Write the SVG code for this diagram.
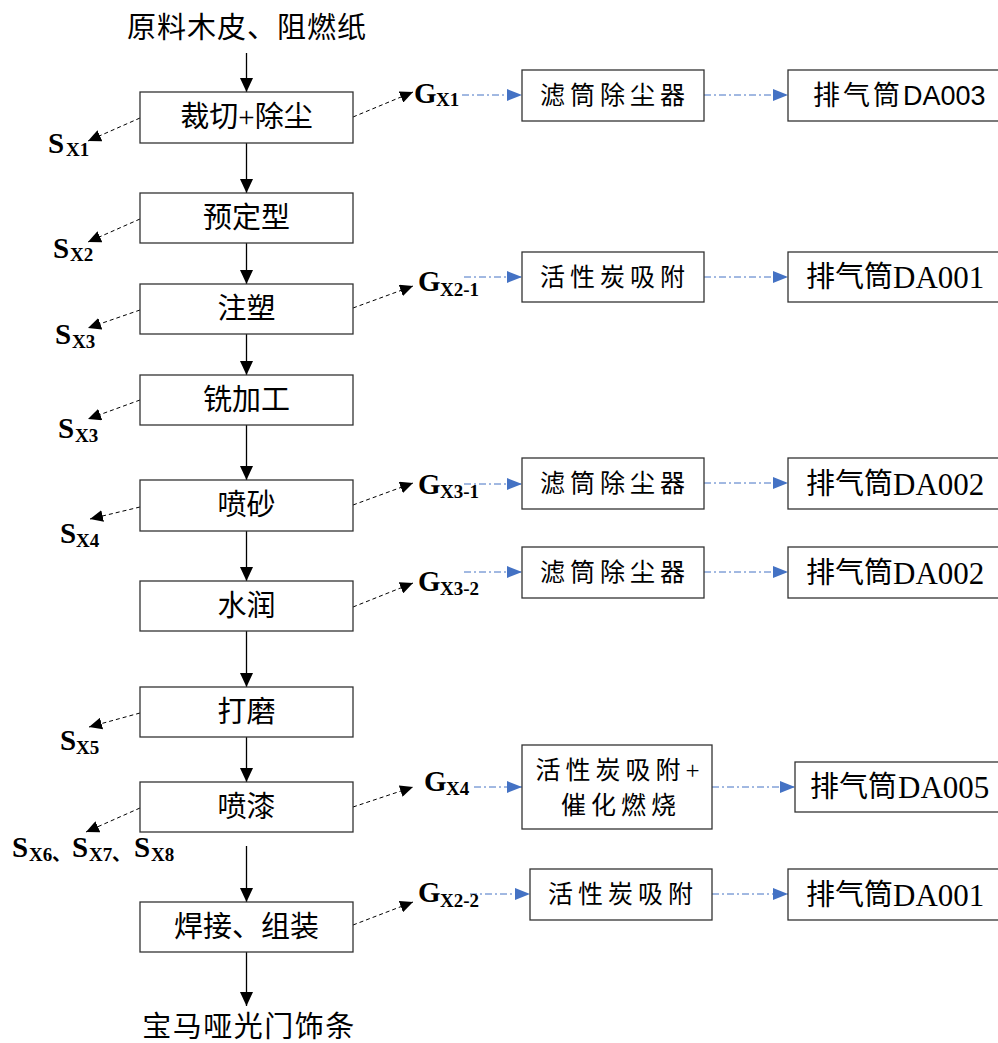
<svg xmlns="http://www.w3.org/2000/svg" width="998" height="1043" viewBox="0 0 998 1043">
<style>
.box{fill:#fff;stroke:#333;stroke-width:1.3}
.t{font-family:"Liberation Serif","Noto Sans CJK SC",serif;font-size:29px;text-anchor:middle;fill:#000}
.r{font-family:"Liberation Serif","Noto Sans CJK SC",serif;font-size:25px;letter-spacing:5px;text-anchor:middle;fill:#000}
.cj{font-family:"Noto Sans CJK SC",sans-serif;font-size:29px;fill:#000}
.lat{font-family:"Liberation Serif",serif;font-size:31px;fill:#000}
.sans{font-family:"Liberation Sans",sans-serif;font-size:27px;fill:#000}
.flow{fill:none;stroke:#000;stroke-width:1.3;marker-end:url(#ah)}
.dash{fill:none;stroke:#000;stroke-width:1;stroke-dasharray:4 3;marker-end:url(#dh)}
.blue{fill:none;stroke:#4472C4;stroke-width:1;stroke-dasharray:7 3 2 3;marker-end:url(#bh)}
.lbl{font-family:"Liberation Serif","Noto Sans CJK SC",serif;font-weight:bold;font-size:29px;fill:#000}
.sub{font-size:19px}
</style>
<defs>
<marker id="ah" markerUnits="userSpaceOnUse" markerWidth="14" markerHeight="13" refX="14" refY="6.5" orient="auto"><path d="M0,0 L14,6.5 L0,13 z" fill="#000"/></marker>
<marker id="dh" markerUnits="userSpaceOnUse" markerWidth="13" markerHeight="12" refX="13" refY="6" orient="auto"><path d="M0,0 L13,6 L0,12 z" fill="#000"/></marker>
<marker id="bh" markerUnits="userSpaceOnUse" markerWidth="15" markerHeight="12" refX="15" refY="6" orient="auto"><path d="M0,0 L15,6 L0,12 z" fill="#4472C4"/></marker>
</defs>

<g id="connectors">
<path class="flow" d="M246.5,53 V92"/>
<path class="flow" d="M246.5,143 V193"/>
<path class="flow" d="M246.5,243 V284"/>
<path class="flow" d="M246.5,334 V375"/>
<path class="flow" d="M246.5,425 V480"/>
<path class="flow" d="M246.5,531 V581"/>
<path class="flow" d="M246.5,631 V687"/>
<path class="flow" d="M246.5,737 V782"/>
<path class="flow" d="M246.5,846 V902"/>
<path class="flow" d="M246.5,952 V1006"/>

<path class="dash" d="M140,118 L88,141"/>
<path class="dash" d="M140,219 L88,242"/>
<path class="dash" d="M140,310 L88,328"/>
<path class="dash" d="M140,400 L88,419"/>
<path class="dash" d="M140,507 L90,519"/>
<path class="dash" d="M140,713 L89,727"/>
<path class="dash" d="M140,808 L86,832"/>

<path class="dash" d="M353,117 L413,92"/>
<path class="dash" d="M353,308 L413,286"/>
<path class="dash" d="M353,505 L413,483"/>
<path class="dash" d="M353,607 L413,583"/>
<path class="dash" d="M353,807 L413,787"/>
<path class="dash" d="M353,925 L413,902"/>

<path class="blue" d="M462,95 H522"/>
<path class="blue" d="M704,95 H788"/>
<path class="blue" d="M464,277 H522"/>
<path class="blue" d="M704,277 H788"/>
<path class="blue" d="M464,484 H522"/>
<path class="blue" d="M704,483 H788"/>
<path class="blue" d="M464,572 H522"/>
<path class="blue" d="M704,572 H788"/>
<path class="blue" d="M474,787 H522"/>
<path class="blue" d="M712,787 H795"/>
<path class="blue" d="M470,894 H530"/>
<path class="blue" d="M712,894 H788"/>
</g>

<g id="labels">
<text id="in" class="t" x="247" y="38" style="letter-spacing:1px">原料木皮、阻燃纸</text>
<text id="out" class="t" x="249" y="1037" style="letter-spacing:1.5px">宝马哑光门饰条</text>
<text class="lbl" x="48" y="153">S<tspan class="sub" x="66" y="156">X1</tspan></text>
<text class="lbl" x="53" y="258">S<tspan class="sub" x="70" y="261">X2</tspan></text>
<text class="lbl" x="55" y="344">S<tspan class="sub" x="72" y="348">X3</tspan></text>
<text class="lbl" x="58" y="438">S<tspan class="sub" x="75" y="442">X3</tspan></text>
<text class="lbl" x="60" y="543">S<tspan class="sub" x="76" y="547">X4</tspan></text>
<text class="lbl" x="60" y="750">S<tspan class="sub" x="76" y="754">X5</tspan></text>
<text class="lbl" x="12" y="857">S<tspan class="sub" x="29" y="861">X6</tspan><tspan class="sub" x="52" y="861">、</tspan><tspan x="72" y="857">S</tspan><tspan class="sub" x="89" y="861">X7</tspan><tspan class="sub" x="112" y="861">、</tspan><tspan x="134" y="857">S</tspan><tspan class="sub" x="151" y="861">X8</tspan></text>
<text class="lbl" x="414" y="103">G<tspan class="sub" x="436" y="106">X1</tspan></text>
<text class="lbl" x="418" y="291">G<tspan class="sub" x="440" y="296">X2-1</tspan></text>
<text class="lbl" x="418" y="494">G<tspan class="sub" x="440" y="498">X3-1</tspan></text>
<text class="lbl" x="418" y="591">G<tspan class="sub" x="440" y="595">X3-2</tspan></text>
<text class="lbl" x="424" y="791">G<tspan class="sub" x="446" y="795">X4</tspan></text>
<text class="lbl" x="418" y="902">G<tspan class="sub" x="440" y="907">X2-2</tspan></text>
</g>

<g id="n1"><rect class="box" x="140" y="92" width="213" height="51"/><text class="t" x="246.5" y="127">裁切+除尘</text></g>
<g id="n2"><rect class="box" x="140" y="193" width="213" height="50"/><text class="t" x="246.5" y="228">预定型</text></g>
<g id="n3"><rect class="box" x="140" y="284" width="213" height="50"/><text class="t" x="246.5" y="319">注塑</text></g>
<g id="n4"><rect class="box" x="140" y="375" width="213" height="50"/><text class="t" x="246.5" y="410">铣加工</text></g>
<g id="n5"><rect class="box" x="140" y="480" width="213" height="51"/><text class="t" x="246.5" y="515">喷砂</text></g>
<g id="n6"><rect class="box" x="140" y="581" width="213" height="50"/><text class="t" x="246.5" y="616">水润</text></g>
<g id="n7"><rect class="box" x="140" y="687" width="213" height="50"/><text class="t" x="246.5" y="722">打磨</text></g>
<g id="n8"><rect class="box" x="140" y="782" width="213" height="50"/><text class="t" x="246.5" y="817">喷漆</text></g>
<g id="n9"><rect class="box" x="140" y="902" width="213" height="50"/><text class="t" x="246.5" y="937">焊接、组装</text></g>

<g id="a1"><rect class="box" x="522" y="70" width="182" height="51"/><text class="r" x="615" y="104">滤筒除尘器</text></g>
<g id="b1"><rect class="box" x="788" y="70" width="220" height="51"/><text class="cj" x="813" y="105" style="font-size:27px;letter-spacing:3px">排气筒</text><text class="sans" x="903" y="105">DA003</text></g>

<g id="a2"><rect class="box" x="522" y="252" width="182" height="50"/><text class="r" x="615" y="286">活性炭吸附</text></g>
<g id="b2"><rect class="box" x="788" y="252" width="220" height="50"/><text class="cj" x="806" y="287">排气筒</text><text class="lat" x="893" y="288">DA001</text></g>

<g id="a3"><rect class="box" x="522" y="458" width="182" height="51"/><text class="r" x="615" y="492">滤筒除尘器</text></g>
<g id="b3"><rect class="box" x="788" y="458" width="220" height="51"/><text class="cj" x="806" y="494">排气筒</text><text class="lat" x="893" y="495">DA002</text></g>

<g id="a4"><rect class="box" x="522" y="547" width="182" height="51"/><text class="r" x="615" y="581">滤筒除尘器</text></g>
<g id="b4"><rect class="box" x="788" y="547" width="220" height="51"/><text class="cj" x="806" y="583">排气筒</text><text class="lat" x="893" y="584">DA002</text></g>

<g id="a5"><rect class="box" x="522" y="745" width="190" height="84"/><text class="r" x="620" y="779">活性炭吸附+</text><text class="r" x="621" y="814">催化燃烧</text></g>
<g id="b5"><rect class="box" x="795" y="762" width="215" height="50"/><text class="cj" x="810" y="797">排气筒</text><text class="lat" x="898" y="798">DA005</text></g>

<g id="a6"><rect class="box" x="530" y="869" width="182" height="51"/><text class="r" x="623" y="903">活性炭吸附</text></g>
<g id="b6"><rect class="box" x="788" y="869" width="220" height="51"/><text class="cj" x="806" y="905">排气筒</text><text class="lat" x="893" y="906">DA001</text></g>
</svg>
